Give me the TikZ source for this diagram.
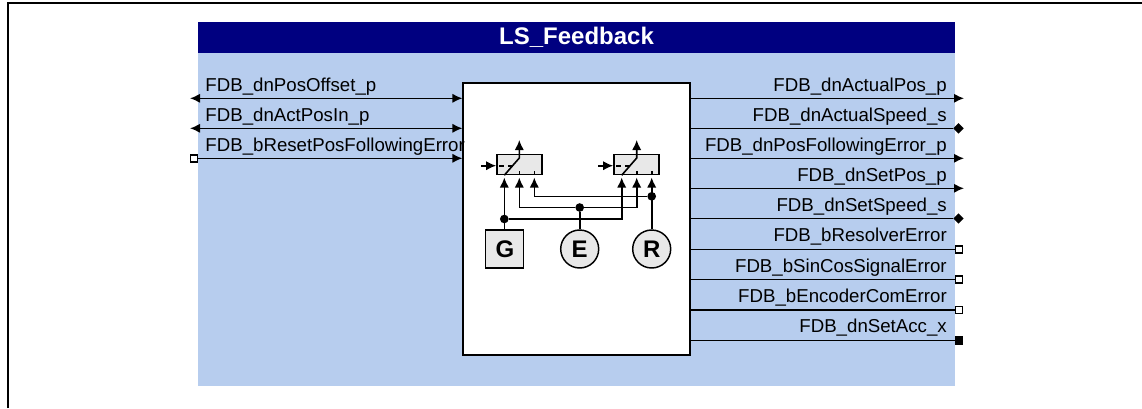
\documentclass[tikz,border=0pt]{standalone}
\usepackage{fontspec}
\setmainfont{Liberation Sans}
\usepackage{tikz}
\usetikzlibrary{shapes.geometric, arrows.meta, positioning}
\definecolor{panelblue}{HTML}{B7CDEE}
\definecolor{titleblue}{HTML}{000080}
\definecolor{boxgrey}{HTML}{E8E8E8}
\tikzstyle{panel} = [rectangle, fill=panelblue, inner sep=0pt, minimum width=567.75pt, minimum height=273pt]
\tikzstyle{titlebar} = [rectangle, fill=titleblue, text=white, font=\fontsize{18}{18}\selectfont\bfseries, inner sep=0pt, text width=567.75pt, align=center, text height=17pt, text depth=6pt]
\tikzstyle{block} = [rectangle, draw, fill=white, line width=0.9pt, inner sep=0pt, minimum width=170.25pt, minimum height=204pt]
\tikzstyle{switchbox} = [rectangle, draw, fill=boxgrey, line width=1.1pt, inner sep=0pt, minimum width=34pt, minimum height=15pt]
\tikzstyle{gbox} = [rectangle, draw, fill=boxgrey, line width=1.1pt, inner sep=0pt, minimum size=28.5pt, font=\fontsize{18}{18}\selectfont\bfseries]
\tikzstyle{cbox} = [circle, draw, fill=boxgrey, line width=1.1pt, inner sep=0pt, minimum size=28.5pt, font=\fontsize{18}{18}\selectfont\bfseries]
\tikzstyle{dot} = [circle, fill=black, inner sep=0pt, minimum size=6.5pt]
\tikzstyle{sqport} = [rectangle, draw, fill=white, line width=1.1pt, inner sep=0pt, minimum size=5.2pt]
\tikzstyle{blackport} = [rectangle, draw, fill=black, line width=1.1pt, inner sep=0pt, minimum size=5.2pt]
\tikzstyle{diaport} = [diamond, fill=black, inner sep=0pt, minimum size=8pt]
\tikzstyle{lbl} = [inner sep=0pt, font=\fontsize{14}{14}\selectfont]
\tikzstyle{line} = [draw, line width=1.2pt]
\tikzstyle{arrowline} = [draw, line width=1.2pt, -{Latex[length=7.5pt,width=7pt]}]
\tikzstyle{biline} = [draw, line width=1.2pt, {Latex[length=7.5pt,width=7pt]}-{Latex[length=7.5pt,width=7pt]}]

\begin{document}
\begin{tikzpicture}[x=0.75pt, y=-0.75pt]
        \useasboundingbox (0,0) rectangle (1142,408);
        % Frame
        \coordinate (fbl) at (8,408);
        \coordinate (ftl) at (8,3);
        \coordinate (ftr) at (1142,3);
        \draw [line width=1.5pt] (fbl) -- (ftl) -- (ftr);

        % Panel
        \node [panel] (panel) at (576.5,204) {};
        \node [titlebar] (title) at (576.5,37.5) {LS\_Feedback};
        \node [block] (main) at (576.5,219) {};

        % Ports
        \coordinate (pos) at (190,98.3);
        \coordinate (act) at (190,128.3);
        \node [sqport] (rst) at (194,158.3) {};
        \coordinate (apos) at (964,98.3);
        \node [diaport] (aspd) at (958.5,128.3) {};
        \coordinate (ferr) at (964,158.3);
        \coordinate (spos) at (964,188.3);
        \node [diaport] (sspd) at (958.5,218.5) {};
        \node [sqport] (res) at (959,249.3) {};
        \node [sqport] (sin) at (959,279.6) {};
        \node [sqport] (enc) at (959,310) {};
        \node [blackport] (acc) at (959,340.3) {};

        % Lines
        \path [biline] (pos) -- (pos -| main.west);
        \path [biline] (act) -- (act -| main.west);
        \path [arrowline] (rst) -- (rst -| main.west);
        \path [arrowline] (apos -| main.east) -- (apos);
        \path [line] (aspd -| main.east) -- (aspd);
        \path [arrowline] (ferr -| main.east) -- (ferr);
        \path [arrowline] (spos -| main.east) -- (spos);
        \path [line] (sspd -| main.east) -- (sspd);
        \path [line] (res -| main.east) -- (res);
        \path [line] (sin -| main.east) -- (sin);
        \path [line] (enc -| main.east) -- (enc);
        \path [line] (acc -| main.east) -- (acc);

        % Labels
        \node [lbl, anchor=base west] (lpos) at (205.2,91) {FDB\_dnPosOffset\_p};
        \node [lbl, anchor=base west] (lact) at (205.2,121) {FDB\_dnActPosIn\_p};
        \node [lbl, anchor=base west] (lrst) at (205.2,151) {FDB\_bResetPosFollowingError};
        \node [lbl, anchor=base east] (lapos) at (947,91) {FDB\_dnActualPos\_p};
        \node [lbl, anchor=base east] (laspd) at (947,121) {FDB\_dnActualSpeed\_s};
        \node [lbl, anchor=base east] (lferr) at (947,151) {FDB\_dnPosFollowingError\_p};
        \node [lbl, anchor=base east] (lspos) at (947,181) {FDB\_dnSetPos\_p};
        \node [lbl, anchor=base east] (lsspd) at (947,211) {FDB\_dnSetSpeed\_s};
        \node [lbl, anchor=base east] (lres) at (947,241.5) {FDB\_bResolverError};
        \node [lbl, anchor=base east] (lsin) at (947,272) {FDB\_bSinCosSignalError};
        \node [lbl, anchor=base east] (lenc) at (947,302) {FDB\_bEncoderComError};
        \node [lbl, anchor=base east] (lacc) at (947,332.5) {FDB\_dnSetAcc\_x};

        % Switches
        \node [switchbox] (swl) at (519.5,164.5) {};
        \node [switchbox] (swr) at (636.5,164.5) {};
        \node [gbox] (g) at (504.3,249) {\raisebox{-0.7pt}{\hspace{1pt}G}};
        \node [cbox] (e) at (579.7,249) {\raisebox{-0.7pt}{E}};
        \node [cbox] (r) at (651.7,249) {\raisebox{-0.7pt}{R}};

        % Crossing dots
        \node [dot] (dg) at (504.3,219) {};
        \node [dot] (de) at (579.7,207.5) {};
        \node [dot] (dr) at (651.7,196.3) {};

        % Switch points
        \coordinate (la) at (504.3,177.5);
        \coordinate (lb) at (519.3,177.5);
        \coordinate (lc) at (534.3,177.5);
        \coordinate (ra) at (621.7,177.5);
        \coordinate (rb) at (636.7,177.5);
        \coordinate (rc) at (651.7,177.5);
        \coordinate (lk) at (519.3,158);
        \coordinate (rk) at (636.7,158);
        \coordinate (lo) at (519.3,140);
        \coordinate (ro) at (636.7,140);
        \coordinate (li) at (481,165.7);
        \coordinate (ri) at (598,165.7);

        % Wires
        \path [arrowline] (g) -- (la);
        \path [arrowline] (r) -- (rc);
        \path [line] (e) -- (de);
        \path [arrowline] (dg) -| (ra);
        \path [arrowline] (de) -| (lb);
        \path [arrowline] (de) -| (rb);
        \path [arrowline] (dr) -| (lc);

        % Contacts
        \path [arrowline] (la |- swl.south) -- (lk) -- (lo);
        \path [arrowline] (ra |- swr.south) -- (rk) -- (ro);
        \path [arrowline] (li) -- (li -| swl.west);
        \path [arrowline] (ri) -- (ri -| swr.west);
        \path [line] (lb |- swl.south) -- +(0,-4);
        \path [line] (lc |- swl.south) -- +(0,-4);
        \path [line] (rb |- swr.south) -- +(0,-4);
        \path [line] (rc |- swr.south) -- +(0,-4);
        \path [line, dash pattern=on 4pt off 2.5pt] (swl.west |- li) ++(3,0) -- ++(16,0);
        \path [line, dash pattern=on 4pt off 2.5pt] (swr.west |- ri) ++(3,0) -- ++(16,0);
    \end{tikzpicture}
\end{document}
